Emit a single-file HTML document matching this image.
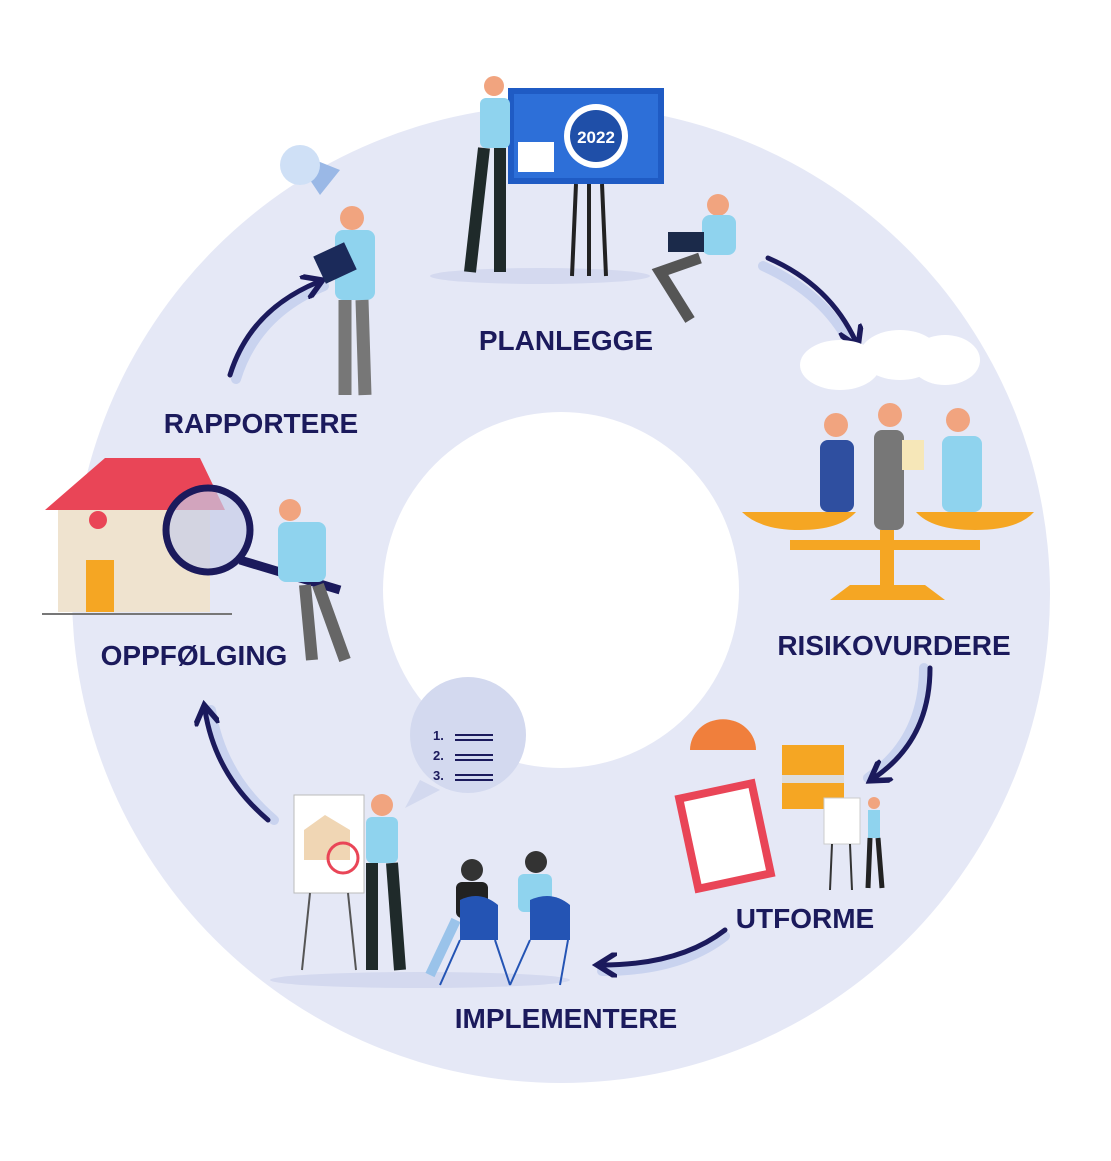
<!DOCTYPE html>
<html><head><meta charset="utf-8"><style>
html,body{margin:0;padding:0;background:#fff;}
svg{display:block}
text{font-family:"Liberation Sans",sans-serif;font-weight:bold;fill:#1b1a5c;}
</style></head><body>
<svg width="1111" height="1161" viewBox="0 0 1111 1161" xmlns="http://www.w3.org/2000/svg">
<defs>
<marker id="ah" viewBox="0 0 10 10" refX="6" refY="5" markerWidth="5" markerHeight="5" orient="auto"><path d="M0,0 L8,5 L0,10" fill="none" stroke="#1b1a5c" stroke-width="2.2"/></marker>
</defs>
<rect width="1111" height="1161" fill="#fff"/>
<circle cx="561" cy="594" r="489" fill="#e5e8f6"/>
<circle cx="561" cy="590" r="178" fill="#fff"/>

<!-- arrows -->
<g fill="none" stroke-linecap="round">
<path d="M768,262 Q830,290 856,342" stroke="#c9d3ef" stroke-width="10" transform="translate(-5,4)"/>
<path d="M768,258 Q830,285 856,342" stroke="#1b1a5c" stroke-width="5" marker-end="url(#ah)"/>
<path d="M930,668 Q930,740 874,778" stroke="#c9d3ef" stroke-width="10" transform="translate(-6,0)"/>
<path d="M930,668 Q930,740 874,778" stroke="#1b1a5c" stroke-width="5" marker-end="url(#ah)"/>
<path d="M725,930 Q680,965 602,965" stroke="#c9d3ef" stroke-width="10" transform="translate(0,6)"/>
<path d="M725,930 Q680,965 602,965" stroke="#1b1a5c" stroke-width="5" marker-end="url(#ah)"/>
<path d="M268,820 Q215,775 205,710" stroke="#c9d3ef" stroke-width="10" transform="translate(6,0)"/>
<path d="M268,820 Q215,775 205,710" stroke="#1b1a5c" stroke-width="5" marker-end="url(#ah)"/>
<path d="M230,375 Q250,310 318,282" stroke="#c9d3ef" stroke-width="10" transform="translate(6,4)"/>
<path d="M230,375 Q250,310 318,282" stroke="#1b1a5c" stroke-width="5" marker-end="url(#ah)"/>
</g>

<!-- PLANLEGGE illustration -->
<ellipse cx="540" cy="276" rx="110" ry="8" fill="#d4d9ef"/>
<rect x="508" y="88" width="156" height="96" fill="#1f5bc4"/>
<rect x="514" y="94" width="144" height="84" fill="#2d6fd8"/>
<circle cx="596" cy="136" r="32" fill="#fff"/><circle cx="596" cy="136" r="26" fill="#1f4fa8"/>
<text x="596" y="143" font-size="17" text-anchor="middle" style="fill:#fff">2022</text>
<rect x="518" y="142" width="36" height="30" fill="#fff"/>
<path d="M576,184 L572,276 M602,184 L606,276 M589,184 L589,276" stroke="#222" stroke-width="4"/>
<circle cx="494" cy="86" r="10" fill="#f1a47f"/>
<rect x="480" y="98" width="30" height="50" rx="6" fill="#8fd3ee"/>
<path d="M484,148 L470,272 M500,148 L500,272" stroke="#1f2a2a" stroke-width="12"/>
<circle cx="718" cy="205" r="11" fill="#f1a47f"/>
<rect x="702" y="215" width="34" height="40" rx="8" fill="#8fd3ee"/>
<path d="M700,258 L660,272 L690,320" stroke="#555" stroke-width="11" fill="none"/>
<rect x="668" y="232" width="36" height="20" fill="#1b2a4a"/>

<!-- RAPPORTERE -->
<path d="M290,150 L320,195 L340,170 Z" fill="#9ab8e6"/>
<circle cx="300" cy="165" r="20" fill="#cfe0f6"/>
<circle cx="352" cy="218" r="12" fill="#f1a47f"/>
<rect x="335" y="230" width="40" height="70" rx="8" fill="#8fd3ee"/>
<path d="M345,300 L345,395 M362,300 L365,395" stroke="#777" stroke-width="13"/>
<rect x="318" y="248" width="34" height="30" fill="#1b2a5a" transform="rotate(-25 335 263)"/>

<!-- RISIKOVURDERE -->
<g fill="#fff"><ellipse cx="840" cy="365" rx="40" ry="25"/><ellipse cx="900" cy="355" rx="40" ry="25"/><ellipse cx="945" cy="360" rx="35" ry="25"/></g>
<circle cx="836" cy="425" r="12" fill="#f1a47f"/><rect x="820" y="440" width="34" height="72" rx="8" fill="#2f4fa0"/>
<circle cx="890" cy="415" r="12" fill="#f1a47f"/><rect x="874" y="430" width="30" height="100" rx="8" fill="#777"/>
<circle cx="958" cy="420" r="12" fill="#f1a47f"/><rect x="942" y="436" width="40" height="76" rx="8" fill="#8fd3ee"/>
<rect x="902" y="440" width="22" height="30" fill="#f6e7b8"/>
<path d="M742,512 L856,512 Q840,530 800,530 Q760,530 742,512 Z" fill="#f5a623"/>
<path d="M916,512 L1034,512 Q1018,530 975,530 Q932,530 916,512 Z" fill="#f5a623"/>
<rect x="790" y="540" width="190" height="10" fill="#f5a623"/>
<rect x="880" y="530" width="14" height="60" fill="#f5a623"/>
<path d="M830,600 L945,600 L925,585 L850,585 Z" fill="#f5a623"/>

<!-- OPPFØLGING -->
<path d="M58,510 L58,612 L210,612 L210,510 L140,462 Z" fill="#efe3cf"/>
<path d="M45,510 L105,458 L200,458 L225,510 Z" fill="#e94557"/>
<rect x="86" y="560" width="28" height="52" fill="#f5a623"/>
<circle cx="98" cy="520" r="9" fill="#e94557"/>
<line x1="42" y1="614" x2="232" y2="614" stroke="#777" stroke-width="2"/>
<circle cx="208" cy="530" r="42" fill="#c8cde8" fill-opacity="0.7" stroke="#1b1a5c" stroke-width="7"/>
<path d="M240,560 L340,590" stroke="#1b1a5c" stroke-width="9"/>
<circle cx="290" cy="510" r="11" fill="#f1a47f"/>
<rect x="278" y="522" width="48" height="60" rx="8" fill="#8fd3ee"/>
<path d="M305,585 L312,660 M318,585 L345,660" stroke="#666" stroke-width="12"/>

<!-- UTFORME -->
<path d="M690,750 A30,28 0 0 1 756,750 Z" fill="#f07f3c"/>
<rect x="782" y="745" width="62" height="64" fill="#f5a623"/>
<rect x="782" y="775" width="62" height="8" fill="#ddd"/>
<rect x="684" y="786" width="82" height="100" fill="#e94557" transform="rotate(-12 725 836)"/>
<rect x="692" y="794" width="66" height="84" fill="#fff" transform="rotate(-12 725 836)"/>
<rect x="824" y="798" width="36" height="46" fill="#fff" stroke="#ccc"/>
<path d="M832,844 L830,890 M850,844 L852,890" stroke="#333" stroke-width="2"/>
<circle cx="874" cy="803" r="6" fill="#f1a47f"/><rect x="868" y="810" width="12" height="28" fill="#8fd3ee"/>
<path d="M870,838 L868,888 M878,838 L882,888" stroke="#222" stroke-width="5"/>

<!-- IMPLEMENTERE -->
<circle cx="468" cy="735" r="58" fill="#d3d9ef"/>
<path d="M420,780 L405,808 L440,790 Z" fill="#d3d9ef"/>
<text x="433" y="740" font-size="13">1.</text><text x="433" y="760" font-size="13">2.</text><text x="433" y="780" font-size="13">3.</text>
<path d="M455,735h38M455,740h38M455,755h38M455,760h38M455,775h38M455,780h38" stroke="#1b1a5c" stroke-width="2"/>
<rect x="294" y="795" width="70" height="98" fill="#fff" stroke="#bbb"/>
<path d="M304,830 L325,815 L350,830 L350,860 L304,860 Z" fill="#f0d6b4"/>
<circle cx="343" cy="858" r="15" fill="none" stroke="#e94557" stroke-width="3"/>
<path d="M310,893 L302,970 M348,893 L356,970" stroke="#555" stroke-width="2"/>
<ellipse cx="420" cy="980" rx="150" ry="8" fill="#d4d9ef"/>
<circle cx="382" cy="805" r="11" fill="#f1a47f"/>
<rect x="366" y="817" width="32" height="46" rx="6" fill="#8fd3ee"/>
<path d="M372,863 L372,970 M392,863 L400,970" stroke="#1f2a2a" stroke-width="12"/>
<circle cx="472" cy="870" r="11" fill="#333"/><rect x="456" y="882" width="32" height="36" rx="6" fill="#222"/>
<circle cx="536" cy="862" r="11" fill="#333"/><rect x="518" y="874" width="34" height="38" rx="6" fill="#8fd3ee"/>
<path d="M456,920 L430,975" stroke="#9ac3ea" stroke-width="10"/>
<path d="M460,900 Q480,890 498,905 L498,940 L460,940 Z" fill="#2454b4"/>
<path d="M530,900 Q552,890 570,905 L570,940 L530,940 Z" fill="#2454b4"/>
<path d="M460,940 L440,985 M495,940 L510,985 M530,940 L510,985 M568,940 L560,985" stroke="#2454b4" stroke-width="2"/>

<!-- labels -->
<text x="566" y="350" font-size="28" text-anchor="middle">PLANLEGGE</text>
<text x="261" y="433" font-size="28" text-anchor="middle">RAPPORTERE</text>
<text x="894" y="655" font-size="28" text-anchor="middle">RISIKOVURDERE</text>
<text x="194" y="665" font-size="28" text-anchor="middle">OPPFØLGING</text>
<text x="805" y="928" font-size="28" text-anchor="middle">UTFORME</text>
<text x="566" y="1028" font-size="28" text-anchor="middle">IMPLEMENTERE</text>
</svg>
</body></html>
